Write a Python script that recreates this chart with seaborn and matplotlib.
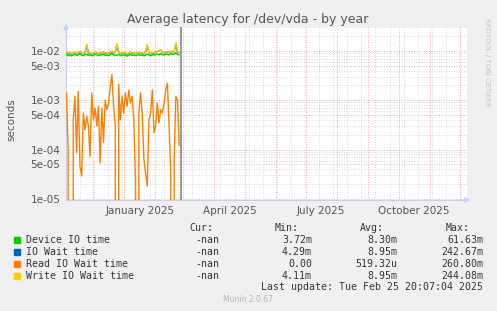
import numpy as np
import pandas as pd
import matplotlib
matplotlib.use("Agg")
import matplotlib.pyplot as plt
import matplotlib.dates as mdates
from matplotlib.patches import Rectangle
import seaborn as sns

# valeurs (secondes)
dates = pd.date_range("2024-11-05", "2025-02-25", periods=68)

device_io = [8.6e-03, 8.0e-03, 8.4e-03, 7.9e-03, 8.3e-03, 8.5e-03, 8.1e-03, 8.4e-03, 8.8e-03, 8.2e-03,
             8.0e-03, 8.3e-03, 8.6e-03, 8.1e-03, 8.4e-03, 7.9e-03, 8.2e-03, 8.5e-03, 8.3e-03, 8.0e-03,
             8.4e-03, 8.2e-03, 8.6e-03, 8.1e-03, 8.3e-03, 8.0e-03, 8.4e-03, 9.0e-03, 8.3e-03, 8.1e-03,
             8.2e-03, 8.5e-03, 8.0e-03, 8.3e-03, 8.1e-03, 8.4e-03, 7.8e-03, 8.2e-03, 8.5e-03, 8.1e-03,
             8.3e-03, 8.0e-03, 8.2e-03, 8.4e-03, 8.1e-03, 8.3e-03, 7.9e-03, 8.2e-03, 8.6e-03, 8.3e-03,
             8.0e-03, 8.4e-03, 8.2e-03, 8.5e-03, 8.7e-03, 8.3e-03, 8.9e-03, 8.4e-03, 8.2e-03, 8.6e-03,
             8.5e-03, 8.3e-03, 8.8e-03, 8.4e-03, 8.6e-03, 9.2e-03, 8.5e-03, 8.3e-03]

io_wait = [9.5e-03, 8.9e-03, 9.2e-03, 8.7e-03, 9.1e-03, 9.3e-03, 8.8e-03, 9.2e-03, 9.6e-03, 9.0e-03,
           8.8e-03, 9.3e-03, 1.3e-02, 9.1e-03, 9.2e-03, 8.7e-03, 9.0e-03, 9.3e-03, 9.1e-03, 8.8e-03,
           9.2e-03, 9.0e-03, 9.5e-03, 8.9e-03, 9.1e-03, 8.8e-03, 9.2e-03, 9.8e-03, 9.1e-03, 9.3e-03,
           1.35e-02, 9.3e-03, 8.8e-03, 9.1e-03, 8.9e-03, 9.2e-03, 8.6e-03, 9.0e-03, 9.3e-03, 8.9e-03,
           9.1e-03, 8.8e-03, 9.0e-03, 9.2e-03, 8.9e-03, 9.1e-03, 8.7e-03, 9.3e-03, 1.3e-02, 9.2e-03,
           8.8e-03, 9.2e-03, 9.0e-03, 9.4e-03, 9.7e-03, 1.01e-02, 1.04e-02, 9.5e-03, 9.1e-03, 9.6e-03,
           9.5e-03, 9.2e-03, 9.8e-03, 9.3e-03, 9.6e-03, 1.4e-02, 9.5e-03, 9.2e-03]

read_wait = [1.4e-03, 8.6e-05, 0, 0, 4.0e-04, 1.2e-03, 8.6e-05, 1.5e-03, 4.6e-05, 2.9e-05,
             5.5e-04, 2.5e-04, 4.7e-04, 3.0e-04, 7.3e-05, 1.4e-03, 4.0e-04, 6.9e-04, 3.0e-04, 7.5e-04,
             5.4e-05, 6.9e-04, 1.4e-04, 1.0e-03, 6.4e-04, 8.8e-04, 1.9e-03, 3.3e-03, 7.5e-04, 3.0e-04,
             0, 2.1e-03, 4.0e-04, 1.2e-03, 5.5e-04, 1.4e-03, 7.5e-04, 1.6e-03, 8.8e-04, 1.2e-03,
             4.0e-04, 2.5e-05, 0, 5.5e-04, 1.4e-03, 5.5e-04, 6.3e-05, 3.4e-05, 1.8e-05, 4.0e-04,
             5.5e-04, 1.6e-03, 2.2e-04, 3.0e-04, 8.8e-04, 3.5e-04, 6.4e-04, 5.5e-04, 8.8e-04, 1.6e-03,
             2.2e-03, 3.0e-04, 3.4e-05, 0, 6.3e-05, 1.2e-03, 1.0e-03, 1.2e-04]

write_wait = [9.6e-03, 9.0e-03, 9.3e-03, 8.8e-03, 9.2e-03, 9.4e-03, 8.9e-03, 9.3e-03, 9.7e-03, 9.1e-03,
              8.9e-03, 9.4e-03, 1.35e-02, 9.2e-03, 9.3e-03, 8.8e-03, 9.1e-03, 9.4e-03, 9.2e-03, 8.9e-03,
              9.3e-03, 9.1e-03, 9.6e-03, 9.0e-03, 9.2e-03, 8.9e-03, 9.3e-03, 9.9e-03, 9.2e-03, 9.4e-03,
              1.4e-02, 9.4e-03, 8.9e-03, 9.2e-03, 9.0e-03, 9.3e-03, 8.7e-03, 9.1e-03, 9.4e-03, 9.0e-03,
              9.2e-03, 8.9e-03, 9.1e-03, 9.3e-03, 9.0e-03, 9.2e-03, 8.8e-03, 9.4e-03, 1.35e-02, 9.3e-03,
              8.9e-03, 9.3e-03, 9.1e-03, 9.5e-03, 9.8e-03, 1.02e-02, 1.05e-02, 9.6e-03, 9.2e-03, 9.7e-03,
              9.6e-03, 9.3e-03, 9.9e-03, 9.4e-03, 9.7e-03, 1.45e-02, 9.6e-03, 9.3e-03]

series_names = ["Device IO time", "IO Wait time", "Read IO Wait time", "Write IO Wait time"]
series_colors = ["#00CC00", "#0066B3", "#FF8000", "#FFCC00"]
cur_vals = ["-nan", "-nan", "-nan", "-nan"]
min_vals = ["3.72m", "4.29m", "0.00", "4.11m"]
avg_vals = ["8.30m", "8.95m", "519.32u", "8.95m"]
max_vals = ["61.63m", "242.67m", "260.80m", "244.08m"]

month_labels = ["January 2025", "April 2025", "July 2025", "October 2025"]
month_label_pos = pd.to_datetime(["2025-01-17", "2025-04-16", "2025-07-16", "2025-10-16"])

W, H = 497, 311
sns.set_style("white")
fig = plt.figure(figsize=(W / 100, H / 100), dpi=100, facecolor="#F0F0F0")
ax = fig.add_axes([66 / W, 1 - 200 / H, (467 - 66) / W, (200 - 27) / H])
ax.set_facecolor("white")

df = pd.DataFrame({
    "date": np.tile(dates, 4),
    "value": device_io + io_wait + read_wait + write_wait,
    "series": np.repeat(series_names, len(dates)),
})
sns.lineplot(data=df, x="date", y="value", hue="series", hue_order=series_names,
             palette=series_colors, estimator=None, lw=1, legend=False, ax=ax, zorder=3)

ax.set_yscale("log")
ax.set_ylim(9.5e-6, 3.05e-2)
xmin, xmax = pd.Timestamp("2024-11-04 12:00"), pd.Timestamp("2025-12-08")
ax.set_xlim(xmin, xmax)

# grille facon rrdtool
red = "#E89595"
grey = "#CFCFCF"
dot = (0, (1, 2))
for dec in [1e-5, 1e-4, 1e-3, 1e-2]:
    for m in range(1, 10):
        v = m * dec
        if v > 3.05e-2:
            continue
        c = red if m in (1, 5) else grey
        ax.axhline(v, color=c, lw=0.6, ls=dot, zorder=1)
for d in pd.date_range("2024-11-04", "2025-12-08", freq="14D"):
    ax.axvline(d, color=grey, lw=0.6, ls=dot, zorder=1)
month_starts = pd.date_range("2024-12-01", "2025-12-01", freq="MS")
for d in month_starts:
    ax.axvline(d, color=red, lw=0.6, ls=dot, zorder=1)

ax.axvline(pd.Timestamp("2025-02-27"), color="#909090", lw=1.3, zorder=4)

ax.set_yticks([1e-5, 5e-5, 1e-4, 5e-4, 1e-3, 5e-3, 1e-2])
ax.set_yticklabels(["1e-05", "5e-05", "1e-04", "5e-04", "1e-03", "5e-03", "1e-02"])
ax.yaxis.set_minor_locator(matplotlib.ticker.NullLocator())
ax.tick_params(axis="y", length=0, pad=4, labelsize=7.5, labelcolor="#555555")

ax.set_xticks(month_label_pos)
ax.set_xticklabels(month_labels)
ax.xaxis.set_minor_locator(mdates.MonthLocator())
ax.tick_params(axis="x", which="major", length=0, pad=4, labelsize=7.5, labelcolor="#555555")
ax.tick_params(axis="x", which="minor", length=3, color=red, width=0.8)
ax.set_xlabel("")
ax.set_ylabel("")

for s in ["top", "right"]:
    ax.spines[s].set_visible(False)
for s in ["left", "bottom"]:
    ax.spines[s].set_color("#CCCCEE")
    ax.spines[s].set_linewidth(0.8)
ax.annotate("", xy=(0, 1.035), xytext=(0, 0.95), xycoords="axes fraction",
            arrowprops=dict(arrowstyle="-|>", color="#C8D0F8", lw=0.8, mutation_scale=8))
ax.annotate("", xy=(1.015, 0), xytext=(0.98, 0), xycoords="axes fraction",
            arrowprops=dict(arrowstyle="-|>", color="#C8D0F8", lw=0.8, mutation_scale=8))

fig.text(248 / W, 1 - 19 / H, "Average latency for /dev/vda - by year", ha="center", va="center",
         fontsize=9, color="#555555")
fig.text(11 / W, 1 - 120 / H, "seconds", rotation=90, ha="center", va="center",
         fontsize=7.5, color="#555555")
fig.text(487 / W, 1 - 62 / H, "RRDTOOL / TOBI OETIKER", rotation=270, ha="center", va="center",
         fontsize=5, color="#C0C0C0")

# legende en bas
mono = dict(family="DejaVu Sans Mono", fontsize=7.1, color="#333333", va="center")
fig.text(213 / W, 1 - 228 / H, "Cur:", ha="right", **mono)
fig.text(299 / W, 1 - 228 / H, "Min:", ha="right", **mono)
fig.text(384 / W, 1 - 228 / H, "Avg:", ha="right", **mono)
fig.text(470 / W, 1 - 228 / H, "Max:", ha="right", **mono)
for i, name in enumerate(series_names):
    y = 240 + i * 12
    fig.patches.append(Rectangle(((14) / W, 1 - (y + 3) / H), 6 / W, 6 / H,
                                 transform=fig.transFigure, color=series_colors[i]))
    fig.text(26 / W, 1 - y / H, name, ha="left", **mono)
    fig.text(219 / W, 1 - y / H, cur_vals[i], ha="right", **mono)
    fig.text(312 / W, 1 - y / H, min_vals[i], ha="right", **mono)
    fig.text(397 / W, 1 - y / H, avg_vals[i], ha="right", **mono)
    fig.text(483 / W, 1 - y / H, max_vals[i], ha="right", **mono)
fig.text(483 / W, 1 - 287 / H, "Last update: Tue Feb 25 20:07:04 2025", ha="right", **mono)
fig.text(248 / W, 1 - 300 / H, "Munin 2.0.67", ha="center", va="center", fontsize=5.5, color="#B5B5B5")

fig.savefig("out.png", dpi=100, facecolor=fig.get_facecolor())
